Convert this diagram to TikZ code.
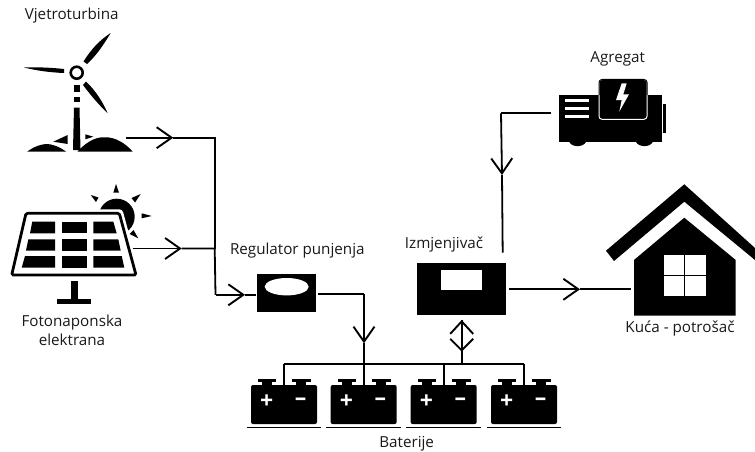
\documentclass[tikz,border=0pt]{standalone}
\usepackage{fontspec}
\setmainfont{Open Sans}
\usetikzlibrary{arrows.meta}
\tikzstyle{lbl} = [text=black!90, font=\fontsize{15.2}{18.6}\selectfont, align=center, inner sep=0pt]
\tikzstyle{block} = [rectangle, fill=black, inner sep=0pt]
\tikzstyle{battery} = [block, rounded corners=2pt, minimum width=66pt, minimum height=39pt]
\tikzstyle{batCap} = [fill=black]
\tikzstyle{batSign} = [text=white, font=\fontsize{23}{23}\selectfont\bfseries, inner sep=0pt]
\tikzstyle{flowLine} = [line width=1.8pt, black]
\tikzstyle{flowArrow} = [flowLine, -{Straight Barb[length=15pt, width=21pt, line width=1.9pt]}]
\tikzstyle{flowDown} = [flowLine, -{Straight Barb[length=11.5pt, width=23pt, line width=1.9pt]}]
\tikzstyle{flowUp} = [flowLine, {Straight Barb[length=12.5pt, width=23pt, line width=1.9pt]}-]

\begin{document}
\begin{tikzpicture}[x=1pt, y=-1pt]
	\useasboundingbox (0,0) rectangle (755,452);
	%labels
	\node[lbl](windLbl) at (71.7,16){Vjetroturbina};
	\node[lbl](solarLbl) at (72,330){Fotonaponska\\elektrana};
	\node[lbl](regLbl) at (297.3,250.7){Regulator punjenja};
	\node[lbl](invLbl) at (444,245){Izmjenjivač};
	\node[lbl](genLbl) at (617.7,59){Agregat};
	\node[lbl](houseLbl) at (680,328){Kuća - potrošač};
	\node[lbl](batLbl) at (406.7,443.3){Baterije};

	%wind turbine
	\draw[line width=2.6pt](76.7,72.7) circle (6);
	\fill (83.5,61.5) .. controls (92,48) and (100,40) .. (110.7,33) .. controls (104,44) and (97,55) .. (87,64) -- cycle;
	\fill (64,69) .. controls (50,67.5) and (36,67) .. (24,67.5) .. controls (36,70.5) and (50,72.5) .. (64,73) -- cycle;
	\fill (83,85) .. controls (92,97) and (100,106) .. (107.5,113) .. controls (103,102) and (95,90) .. (86,81.5) -- cycle;
	\fill (74,85) rectangle (79.5,92);
	\fill (74,97) rectangle (79.5,102);
	\fill (74,107.5) -- (79.5,107.5) -- (80.5,150) -- (73,150) -- cycle;
	\fill (77.5,151.5) .. controls (90,138) and (100,137) .. (105,137.3) .. controls (115,137) and (125,143) .. (132.7,151.5) -- cycle;
	\fill (27.3,151.5) .. controls (35,146) and (42,144) .. (47,144) .. controls (52,144) and (60,147) .. (66,151.5) -- cycle;
	\fill (53.3,141.7) -- (67.7,135) -- (67.7,144) -- cycle;
	\fill (85.3,134.3) -- (93.3,136.7) -- (85.3,139.3) -- cycle;

	%sun
	\fill (116.7,216.7) circle (18);
	\fill (116,184) -- (113.3,192.7) -- (119,192.7) -- cycle;
	\fill (90.7,195) -- (96,202) -- (98.5,197.5) -- cycle;
	\fill (140.7,194) -- (131.5,198) -- (135,202.5) -- cycle;
	\fill (151.7,216) -- (141.7,213.3) -- (141.7,218.3) -- cycle;
	\fill (138.3,238.3) -- (133.5,230) -- (129.5,234) -- cycle;

	%solar panel
	\draw[white, fill=white, line width=8pt, line join=round](26,213.3) -- (119.3,213.3) -- (136,275) -- (11.7,275) -- cycle;
	\draw[line width=2.8pt, fill=white, rounded corners=1.5pt](26,213.3) -- (119.3,213.3) -- (136,275) -- (11.7,275) -- cycle;
	\fill (32.3,221.7) -- (55,221.7) -- (55,233.3) -- (30,233.3) -- cycle;
	\fill (61.7,221.7) rectangle (86.7,233.3);
	\fill (93.3,221.7) -- (113.3,221.7) -- (116.7,233.3) -- (93.3,233.3) -- cycle;
	\fill (28.3,239.3) -- (55,239.3) -- (55,250.7) -- (26,250.7) -- cycle;
	\fill (61.7,239.3) rectangle (86.7,250.7);
	\fill (93.3,239.3) -- (118.3,239.3) -- (120.7,250.7) -- (93.3,250.7) -- cycle;
	\fill (25,256) -- (55,256) -- (55,267.7) -- (21.7,267.7) -- cycle;
	\fill (61.7,256) rectangle (86.7,267.7);
	\fill (93.3,256) -- (121.7,256) -- (124.3,267.7) -- (93.3,267.7) -- cycle;
	\fill (71,281) rectangle (78,299);
	\fill (56.7,299) rectangle (90.7,304.3);

	%generator
	\fill (559.3,95) rectangle (662,141.7);
	\fill (663,104) rectangle (665.7,132.7);
	\draw[white, fill=black, line width=1pt, rounded corners=3pt](599,79.5) rectangle (647,119.3);
	\draw[line width=1pt, rounded corners=3pt](599,95) -- (599,79.5) -- (647,79.5) -- (647,95);
	\fill[white] (621.7,83.3) -- (616,100) -- (621.7,100) -- (619.3,111.7) -- (629,94.3) -- (623.3,94.3) -- (626.7,83.3) -- cycle;
	\foreach \yy in {100.7,108.3,116.7}
		\draw[white, line width=2.6pt](565,\yy) -- (589.3,\yy);
	\fill (569.3,142) .. controls (572,147.5) and (583,147.5) .. (586,142) -- cycle;
	\fill (636,142) .. controls (639,147.5) and (650,147.5) .. (652.7,142) -- cycle;

	%house
	\fill (684.3,184.3) -- (755,248) -- (755,260) -- (684.3,201.7) -- (614,261) -- (606,250.7) -- cycle;
	\fill (684.3,217.7) -- (735.7,260) -- (735.7,315.7) -- (634,315.7) -- (634,260) -- cycle;
	\fill[white] (664,255) rectangle (706,295.7);
	\draw[line width=0.9pt](684.7,255) -- (684.7,295.7);
	\draw[line width=0.9pt](664,275.7) -- (706,275.7);

	%blocks
	\node[block, minimum width=59.3pt, minimum height=37.7pt](regulator) at (286.3,293.2){};
	\fill[white] (286.7,286.7) ellipse (22 and 8.7);
	\node[block, minimum width=88.7pt, minimum height=51.7pt](inverter) at (461.7,289.2){};
	\fill[white] (441,270) rectangle (481.7,290.3);
	\foreach \i/\xx in {1/284,2/363.7,3/443.7,4/524}{
		\node[battery](bat\i) at (\xx,404.5){};
		\fill[batCap] (\xx-26,379.3) rectangle (\xx-8,381.5);
		\fill[batCap] (\xx-22,381) rectangle (\xx-12,386);
		\fill[batCap] (\xx+8,379.3) rectangle (\xx+27,381.5);
		\fill[batCap] (\xx+12,381) rectangle (\xx+22,386);
		\node[batSign] at (\xx-17.3,402){+};
		\node[batSign] at (\xx+16.7,402){–};
		\draw[line width=1pt](\xx-37.3,427.3) -- (\xx+37.3,427.3);
	}

	%free ends
	\coordinate (windOut) at (126,137.7);
	\coordinate (windTip) at (173.3,137.7);
	\coordinate (solarOut) at (132.7,248.5);
	\coordinate (solarTip) at (181.7,248.5);
	\coordinate (jointTop) at (214.7,137.7);
	\coordinate (jointMid) at (214.7,248.5);
	\coordinate (jointBot) at (215.5,294.8);
	\coordinate (regTip) at (245,294.8);
	\coordinate (regOut) at (318.3,294);
	\coordinate (regCorner) at (364,294);
	\coordinate (regDown) at (364,343.3);
	\coordinate (busL) at (284,364);
	\coordinate (busR) at (524,364);
	\coordinate (busInv) at (461.7,364);
	\coordinate (invUp) at (461.7,320);
	\coordinate (invDown) at (461.7,351.7);
	\coordinate (genOut) at (551.3,113.3);
	\coordinate (genCorner) at (501,113.3);
	\coordinate (genTip) at (502,175);
	\coordinate (invIn) at (502.7,252.7);
	\coordinate (invOut) at (509.3,289.3);
	\coordinate (houseTip) at (580,289.3);
	\coordinate (houseIn) at (630.7,289.3);

	%arrows
	\draw[flowArrow](windOut)--(windTip);
	\draw[flowLine](windTip)--(jointTop)--(jointMid);
	\draw[flowArrow](solarOut)--(solarTip);
	\draw[flowLine](solarTip)--(jointMid)--(jointBot);
	\draw[flowArrow](jointBot)--(regTip);
	\draw[flowLine](regTip)--(regulator.west|-regTip);
	\draw[flowLine](regOut)--(regCorner);
	\draw[flowArrow](regCorner)--(regDown);
	\draw[flowLine](regDown)--(regCorner|-busL);
	\draw[flowLine](busL)--(busR);
	\foreach \i in {1,2,3,4}
		\draw[flowLine](bat\i.north)--(bat\i.north|-busL);
	\draw[flowUp](invUp)--(busInv);
	\draw[flowDown](invUp)--(invDown);
	\draw[flowLine](invDown)--(busInv);
	\draw[flowLine](genOut)--(genCorner);
	\draw[flowArrow](genCorner)--(genTip);
	\draw[flowLine](genTip)--(invIn);
	\draw[flowArrow](invOut)--(houseTip);
	\draw[flowLine](houseTip)--(houseIn);
\end{tikzpicture}
\end{document}
